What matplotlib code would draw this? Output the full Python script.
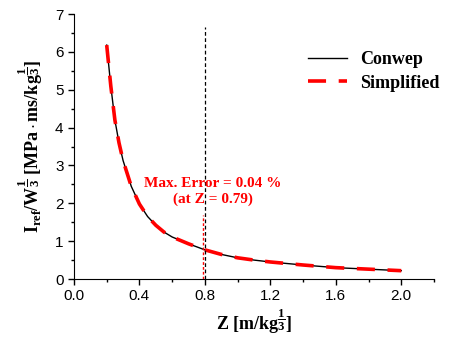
import matplotlib
matplotlib.use("Agg")
import matplotlib.pyplot as plt
from matplotlib.ticker import MultipleLocator

# values
z = [0.2, 0.225, 0.25, 0.275, 0.3, 0.35, 0.4, 0.45, 0.5, 0.55, 0.6, 0.7,
     0.8, 0.9, 1.0, 1.1, 1.2, 1.4, 1.6, 1.8, 2.0]
conwep = [6.18, 5.1, 4.2, 3.6, 3.13, 2.45, 1.98, 1.65, 1.42, 1.24, 1.11, 0.93,
          0.77, 0.65, 0.56, 0.5, 0.45, 0.37, 0.30, 0.26, 0.22]
simplified = [6.18, 5.1, 4.2, 3.6, 3.13, 2.45, 1.98, 1.65, 1.42, 1.24, 1.11, 0.93,
              0.77, 0.65, 0.56, 0.5, 0.45, 0.37, 0.30, 0.26, 0.22]
z_max_err = 0.79
z_mark = 0.8

plt.rcParams['font.family'] = ['Liberation Sans', 'DejaVu Sans']
plt.rcParams['mathtext.fontset'] = 'custom'
plt.rcParams['mathtext.rm'] = 'Liberation Serif'
plt.rcParams['mathtext.it'] = 'Liberation Serif:italic'
plt.rcParams['mathtext.bf'] = 'Liberation Serif:bold'

fig = plt.figure(figsize=(4.5, 3.41), dpi=100)
ax = fig.add_axes([0.1644, 0.1818, 0.80, 0.777])

ax.plot(z, conwep, color='black', lw=1.0, label='Conwep')
ax.plot(z, simplified, color='red', lw=2.6, dashes=(5, 3.5), label='Simplified')

ax.plot([z_max_err, z_max_err], [0, 1.7], color='red', lw=1.0, ls=(0, (2, 1.5)))
ax.plot([z_mark, z_mark], [0, 6.65], color='black', lw=0.9, ls=(0, (3, 2)))

ax.text(0.85, 2.52, 'Max. Error = 0.04 %', color='red', ha='center', va='center',
        fontsize=11, fontweight='bold', family='Liberation Serif')
ax.text(0.85, 2.1, '(at Z = 0.79)', color='red', ha='center', va='center',
        fontsize=11, fontweight='bold', family='Liberation Serif')

ax.set_xlim(0, 2.2)
ax.set_ylim(0, 7)
ax.xaxis.set_major_locator(MultipleLocator(0.4))
ax.xaxis.set_minor_locator(MultipleLocator(0.2))
ax.yaxis.set_major_locator(MultipleLocator(1))
ax.yaxis.set_minor_locator(MultipleLocator(0.5))
ax.set_xticks([0.0, 0.4, 0.8, 1.2, 1.6, 2.0])
ax.set_xticklabels(['0.0', '0.4', '0.8', '1.2', '1.6', '2.0'])
ax.tick_params(which='major', direction='out', length=4, width=1, labelsize=11)
ax.tick_params(which='minor', direction='out', length=2.5, width=1)
ax.spines['top'].set_visible(False)
ax.spines['right'].set_visible(False)

ax.set_xlabel(r'$\mathbf{Z\ [m/kg^{\dfrac{1}{3}}]}$', fontsize=13, labelpad=2)
ax.set_ylabel(r'$\mathbf{I_{ref}/W^{\dfrac{1}{3}}\ [MPa\cdot ms/kg^{\dfrac{1}{3}}]}$',
              fontsize=13, labelpad=7)

leg = ax.legend(loc='upper right', bbox_to_anchor=(1.06, 0.92), frameon=False,
                handlelength=2.2, handletextpad=0.7, labelspacing=0.35,
                prop={'family': 'Liberation Serif', 'weight': 'bold', 'size': 13})

fig.savefig('out.png', dpi=100)
